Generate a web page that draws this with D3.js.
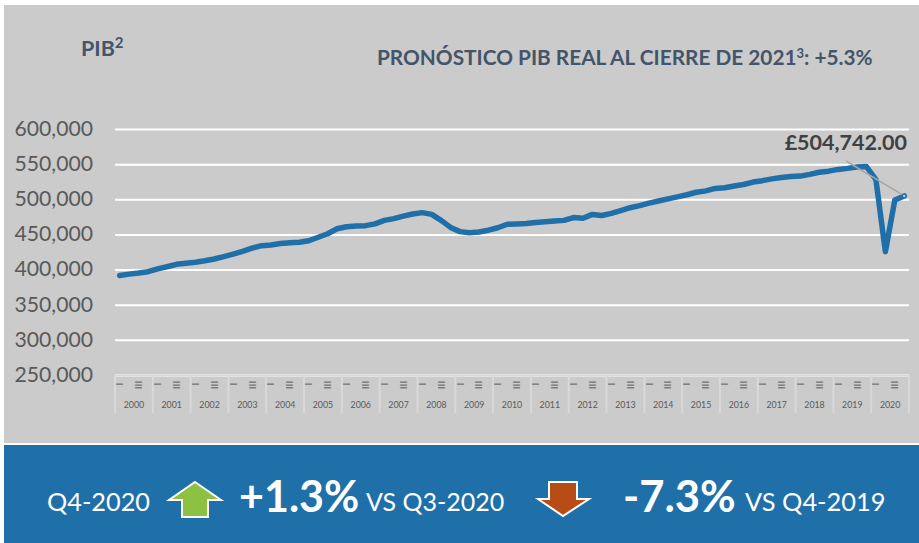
<!DOCTYPE html>
<html><head><meta charset="utf-8">
<script src="https://cdn.jsdelivr.net/npm/d3@7"></script>
<style>html,body{margin:0;padding:0;background:#fff}svg{display:block}text{font-family:Lato,Carlito,sans-serif}</style>
</head><body><svg id="c" width="919" height="543"></svg>
<script>
const years = d3.range(2000, 2021);
const quarterNames = ["I", "II", "III", "IV"];
const gdp = [
 391500,393500,395000,397000,
 401000,404000,407500,409000,
 410500,412500,415000,418500,
 422000,426000,430500,434000,
 435000,437000,438000,439000,
 441000,446000,451000,458000,
 461000,462000,462500,465000,
 470000,472500,476000,479000,
 481000,478500,470000,460000,
 454000,452500,453500,456000,
 459500,464500,465000,465500,
 467000,468000,469000,470000,
 474000,473000,478500,477000,
 480000,484000,488000,491000,
 494500,497500,500500,503500,
 506500,510000,512000,515500,
 516500,519000,521000,524500,
 526500,529000,531000,532500,
 533000,535500,538500,540000,
 542500,544000,546000,546500,
 528000,425500,499000,504742
];
const yTicks = [250000,300000,350000,400000,450000,500000,550000,600000];
const title = "PRONÓSTICO PIB REAL AL CIERRE DE 2021";
const lastLabel = "£504,742.00";

const svg = d3.select("#c");
const W = {l:115, r:909, t:129, b:375};
svg.append("rect").attr("x",4).attr("y",5).attr("width",915).attr("height",438).attr("fill","#cbcbcb");
svg.append("rect").attr("x",4).attr("y",445).attr("width",915).attr("height",98).attr("fill","#1f6fa9");

const y = d3.scaleLinear().domain([250000,600000]).range([W.b,W.t]);
const keys = years.flatMap(yr => quarterNames.map(q => yr+q));
const x = d3.scaleBand().domain(keys).range([W.l,W.r]);
const xc = k => x(k)+x.bandwidth()/2;
const xYear = d3.scaleBand().domain(years).range([W.l,W.r]);

// y axis with gridlines
const ya = svg.append("g").attr("transform",`translate(${W.l},0)`)
  .call(d3.axisLeft(y).tickValues(yTicks).tickFormat(d3.format(",")).tickSize(W.l-W.r).tickPadding(22));
ya.select(".domain").remove();
ya.selectAll("line").attr("stroke","#fff").attr("stroke-width",2);
ya.selectAll("text").attr("fill","#595959").attr("font-size",21.2).attr("dy","0.3em");

// multi-level x axis
const sep = "#d9d9d9";
const xa = svg.append("g").attr("transform",`translate(0,${W.b})`)
  .call(d3.axisBottom(xYear).tickSize(0).tickPadding(27));
xa.select(".domain").attr("stroke",sep).attr("stroke-width",1.5);
xa.selectAll("text").attr("fill","#595959").attr("font-size",8.8);
xa.selectAll(".sep").data(years.concat([2021])).enter().append("line").attr("class","sep")
  .attr("x1",d=> d===2021?W.r:xYear(d)).attr("x2",d=> d===2021?W.r:xYear(d))
  .attr("y1",0).attr("y2",38).attr("stroke",sep).attr("stroke-width",2);
// rotated quarter labels; only I and III fit, as in the original
const qk = keys.filter(k => /\d(I|III)$/.test(k));
xa.selectAll(".q").data(qk).enter().append("text").attr("class","q")
  .text(k => k.replace(/^\d+/,""))
  .attr("text-anchor","middle").attr("fill","#595959").attr("font-size",10)
  .attr("transform",k => `translate(${xc(k)},${k.endsWith("III")?10:9}) rotate(-90)`)
  .attr("dy","0.35em");

// line
const pts = keys.map((k,i)=>[k,gdp[i]]);
const line = d3.line().x(d=>xc(d[0])).y(d=>y(d[1]));
svg.append("path").attr("d",line(pts)).attr("fill","none").attr("stroke","#1f6fa9")
  .attr("stroke-width",5.5).attr("stroke-linecap","round").attr("stroke-linejoin","round");

// last point leader + label
const lp = pts[pts.length-1];
svg.append("line").attr("x1",846).attr("y1",161).attr("x2",xc(lp[0])).attr("y2",y(lp[1]))
  .attr("stroke","#a6a6a6").attr("stroke-width",1.5);
svg.append("circle").attr("cx",xc(lp[0])).attr("cy",y(lp[1])).attr("r",1.8)
  .attr("fill","#cbcbcb").attr("stroke","#1f6fa9").attr("stroke-width",1.2);
svg.append("text").attr("x",907).attr("y",150).attr("text-anchor","end").attr("font-size",21.5)
  .attr("font-weight",700).attr("fill","#404040").text(lastLabel);

// headings
const hd="#44546a";
const pib = svg.append("text").attr("x",81).attr("y",56).attr("font-size",21.5).attr("font-weight",700).attr("fill",hd);
pib.append("tspan").text("PIB");
pib.append("tspan").text("2").attr("font-size",15).attr("dy",-8);
const tt = svg.append("text").attr("x",377).attr("y",65).attr("font-size",20.8).attr("font-weight",700).attr("fill",hd);
tt.append("tspan").text(title);
tt.append("tspan").text("3").attr("font-size",13).attr("dy",-7);
tt.append("tspan").text(": +5.3%").attr("dy",7);

// bottom band
const band = [
 {t:"Q4-2020",x:47,s:25.3,w:400,b:511},{t:"+1.3%",x:239,s:43,w:700,b:512},{t:"VS Q3-2020",x:366,s:25,w:400,b:511},
 {t:"-7.3%",x:623,s:43.5,w:700,b:512},{t:"VS Q4-2019",x:745,s:25.4,w:400,b:511}
];
svg.selectAll(".b").data(band).enter().append("text").attr("class","b")
  .attr("x",d=>d.x).attr("y",d=>d.b).attr("font-size",d=>d.s).attr("font-weight",d=>d.w).attr("fill","#fff").text(d=>d.t);

svg.append("path").attr("d",d3.line()([[195,482],[221,500],[208,500],[208,517],[182,517],[182,500],[169,500]])+"Z")
  .attr("fill","#8cc142").attr("stroke","#fff").attr("stroke-width",2);
svg.append("path").attr("d",d3.line()([[549,482],[577,482],[577,499],[589,499],[563,516],[538,499],[549,499]])+"Z")
  .attr("fill","#b84c16").attr("stroke","#fff").attr("stroke-width",2);
</script></body></html>
